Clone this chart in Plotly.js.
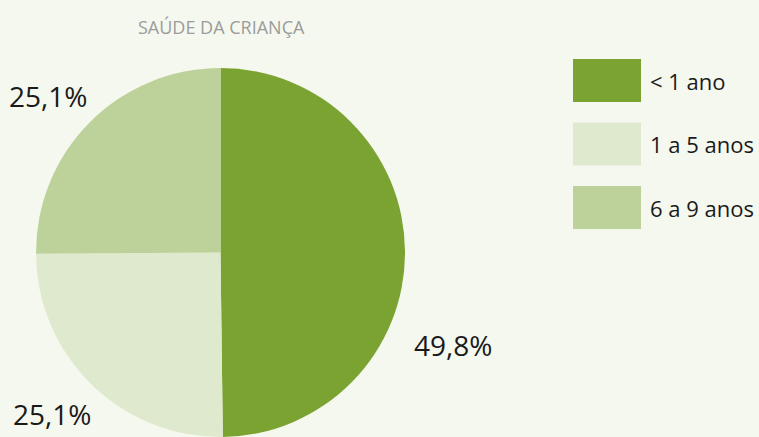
<!DOCTYPE html>
<html>
<head>
<meta charset="utf-8">
<script src="https://cdn.plot.ly/plotly-3.0.1.min.js"></script>
<style>html,body{margin:0;padding:0;background:#f5f8ee;}#chart{width:759px;height:437px;}</style>
</head>
<body>
<div id="chart"></div>
<script>
var categories = ["< 1 ano", "1 a 5 anos", "6 a 9 anos"];
var values = [49.8, 25.1, 25.1];
var valueLabels = ["49,8%", "25,1%", "25,1%"];
var colors = ["#7aa332", "#dfe9cd", "#bdd29a"];
var chartTitle = "SAÚDE DA CRIANÇA";

var W = 759, H = 437;
var font = "'Open Sans', 'DejaVu Sans', sans-serif";

var trace = {
  type: "pie",
  labels: categories,
  values: values,
  sort: false,
  direction: "clockwise",
  rotation: 0,
  marker: {colors: colors, line: {width: 0}},
  textinfo: "none",
  hoverinfo: "label+percent",
  showlegend: false,
  domain: {x: [35/W, 406/W], y: [0, 1 - 68/H]}
};

// label positions (paper coords) for each slice label
var labelPos = [[453, 345], [52, 414], [48, 96]];
var annotations = [{
  text: chartTitle, xref: "paper", yref: "paper",
  x: 222/W, y: 1 - 27/H, xanchor: "center", yanchor: "middle",
  showarrow: false, font: {family: font, size: 18, color: "#9b9b9b"}
}];
var shapes = [];
valueLabels.forEach(function(t, i) {
  annotations.push({
    text: t, xref: "paper", yref: "paper",
    x: labelPos[i][0]/W, y: 1 - labelPos[i][1]/H,
    xanchor: "center", yanchor: "middle", showarrow: false,
    font: {family: font, size: 28, color: "#1a1a1a"}
  });
});
categories.forEach(function(c, i) {
  var top = 59 + i*63.5;
  shapes.push({
    type: "rect", xref: "paper", yref: "paper",
    x0: 573/W, x1: 641/W, y0: 1 - (top+43)/H, y1: 1 - top/H,
    fillcolor: colors[i], line: {width: 0}
  });
  annotations.push({
    text: c, xref: "paper", yref: "paper",
    x: 648/W, y: 1 - (top+21.5)/H, xanchor: "left", yanchor: "middle",
    showarrow: false, font: {family: font, size: 22, color: "#1a1a1a"}
  });
});

var layout = {
  width: W, height: H,
  margin: {l: 0, r: 0, t: 0, b: 0},
  paper_bgcolor: "#f5f8ee",
  plot_bgcolor: "#f5f8ee",
  annotations: annotations,
  shapes: shapes,
  showlegend: false
};

Plotly.newPlot("chart", [trace], layout, {displayModeBar: false, staticPlot: true});
</script>
</body>
</html>
